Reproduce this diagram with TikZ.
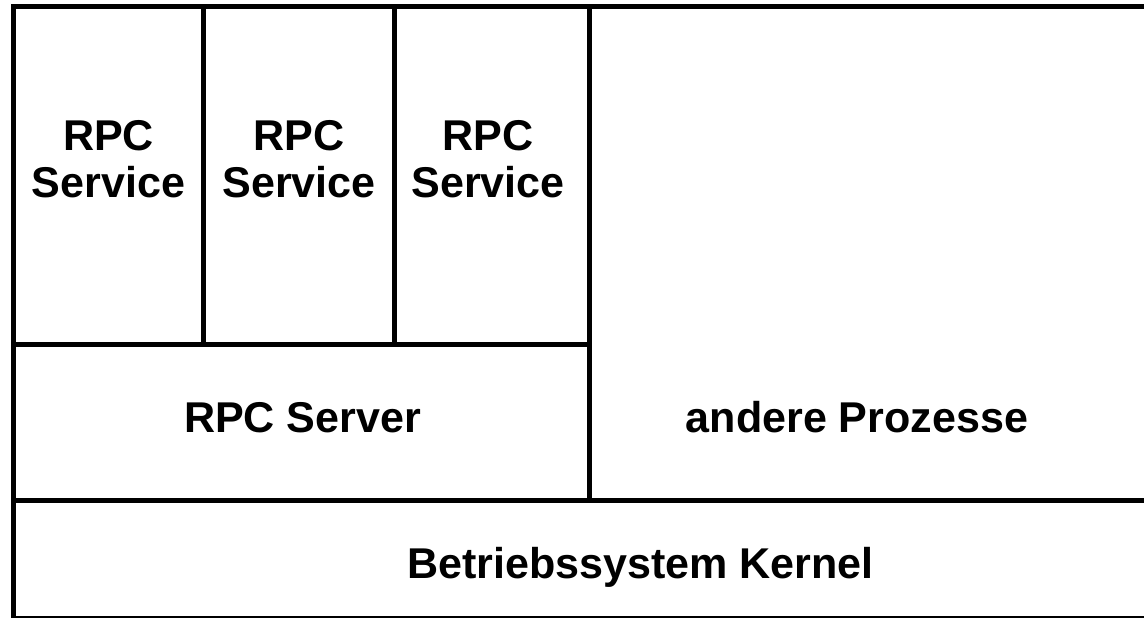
\documentclass[tikz,border=0pt]{standalone}
\usepackage{fontspec}
\setmainfont{Liberation Sans}
\begin{document}
\begin{tikzpicture}[x=0.75pt,y=-0.75pt,line width=3.75pt,
  boxtext/.style={font=\bfseries\fontsize{32.3}{35.3}\selectfont,align=center,inner sep=0pt}]
  \clip (0,0) rectangle (1144,617);
  \draw (13.5,6.5) rectangle (1160,618.5);
  \draw (203.5,6.5) -- (203.5,344.5);
  \draw (394.5,6.5) -- (394.5,344.5);
  \draw (589.5,6.5) -- (589.5,500.5);
  \draw (13.5,344.5) -- (589.5,344.5);
  \draw (13.5,500.5) -- (1160,500.5);

  \foreach \x/\n in {108.5/a,299/b,488/c}
    \node[boxtext] (service\n) at (\x,159) {RPC\\Service};
  \node[boxtext,anchor=base] (server) at (302.5,432) {RPC Server};
  \node[boxtext,anchor=base] (andere) at (857,432) {andere Prozesse};
  \node[boxtext,anchor=base] (kernel) at (640.5,578) {Betriebssystem Kernel};
\end{tikzpicture}
\end{document}
